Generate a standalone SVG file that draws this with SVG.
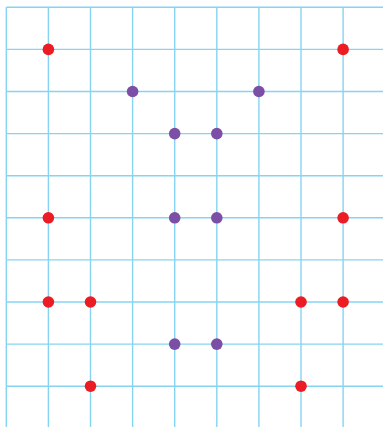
<svg xmlns="http://www.w3.org/2000/svg" width="383" height="427" viewBox="0 0 383 427">
<style>
.g line{stroke:#86d4f2;stroke-width:1.4}
.r{fill:#ec1c24}
.p{fill:#7b4fa5}
</style>
<rect width="383" height="427" fill="#fff"/>
<g id="grid" class="g">
<line x1="6.3" y1="7.3" x2="6.3" y2="427"/>
<line x1="48.4" y1="7.3" x2="48.4" y2="427"/>
<line x1="90.5" y1="7.3" x2="90.5" y2="427"/>
<line x1="132.6" y1="7.3" x2="132.6" y2="427"/>
<line x1="174.7" y1="7.3" x2="174.7" y2="427"/>
<line x1="216.8" y1="7.3" x2="216.8" y2="427"/>
<line x1="258.9" y1="7.3" x2="258.9" y2="427"/>
<line x1="301" y1="7.3" x2="301" y2="427"/>
<line x1="343.1" y1="7.3" x2="343.1" y2="427"/>
<line x1="6.3" y1="7.3" x2="383" y2="7.3"/>
<line x1="6.3" y1="49.4" x2="383" y2="49.4"/>
<line x1="6.3" y1="91.5" x2="383" y2="91.5"/>
<line x1="6.3" y1="133.6" x2="383" y2="133.6"/>
<line x1="6.3" y1="175.7" x2="383" y2="175.7"/>
<line x1="6.3" y1="217.8" x2="383" y2="217.8"/>
<line x1="6.3" y1="259.9" x2="383" y2="259.9"/>
<line x1="6.3" y1="302" x2="383" y2="302"/>
<line x1="6.3" y1="344.1" x2="383" y2="344.1"/>
<line x1="6.3" y1="386.2" x2="383" y2="386.2"/>
</g>
<g id="red-dots" class="r">
<circle cx="48.4" cy="49.4" r="5.8"/>
<circle cx="343.1" cy="49.4" r="5.8"/>
<circle cx="48.4" cy="217.8" r="5.8"/>
<circle cx="343.1" cy="217.8" r="5.8"/>
<circle cx="48.4" cy="302" r="5.8"/>
<circle cx="90.5" cy="302" r="5.8"/>
<circle cx="301" cy="302" r="5.8"/>
<circle cx="343.1" cy="302" r="5.8"/>
<circle cx="90.5" cy="386.2" r="5.8"/>
<circle cx="301" cy="386.2" r="5.8"/>
</g>
<g id="purple-dots" class="p">
<circle cx="132.6" cy="91.5" r="5.8"/>
<circle cx="258.9" cy="91.5" r="5.8"/>
<circle cx="174.7" cy="133.6" r="5.8"/>
<circle cx="216.8" cy="133.6" r="5.8"/>
<circle cx="174.7" cy="217.8" r="5.8"/>
<circle cx="216.8" cy="217.8" r="5.8"/>
<circle cx="174.7" cy="344.1" r="5.8"/>
<circle cx="216.8" cy="344.1" r="5.8"/>
</g>
</svg>
